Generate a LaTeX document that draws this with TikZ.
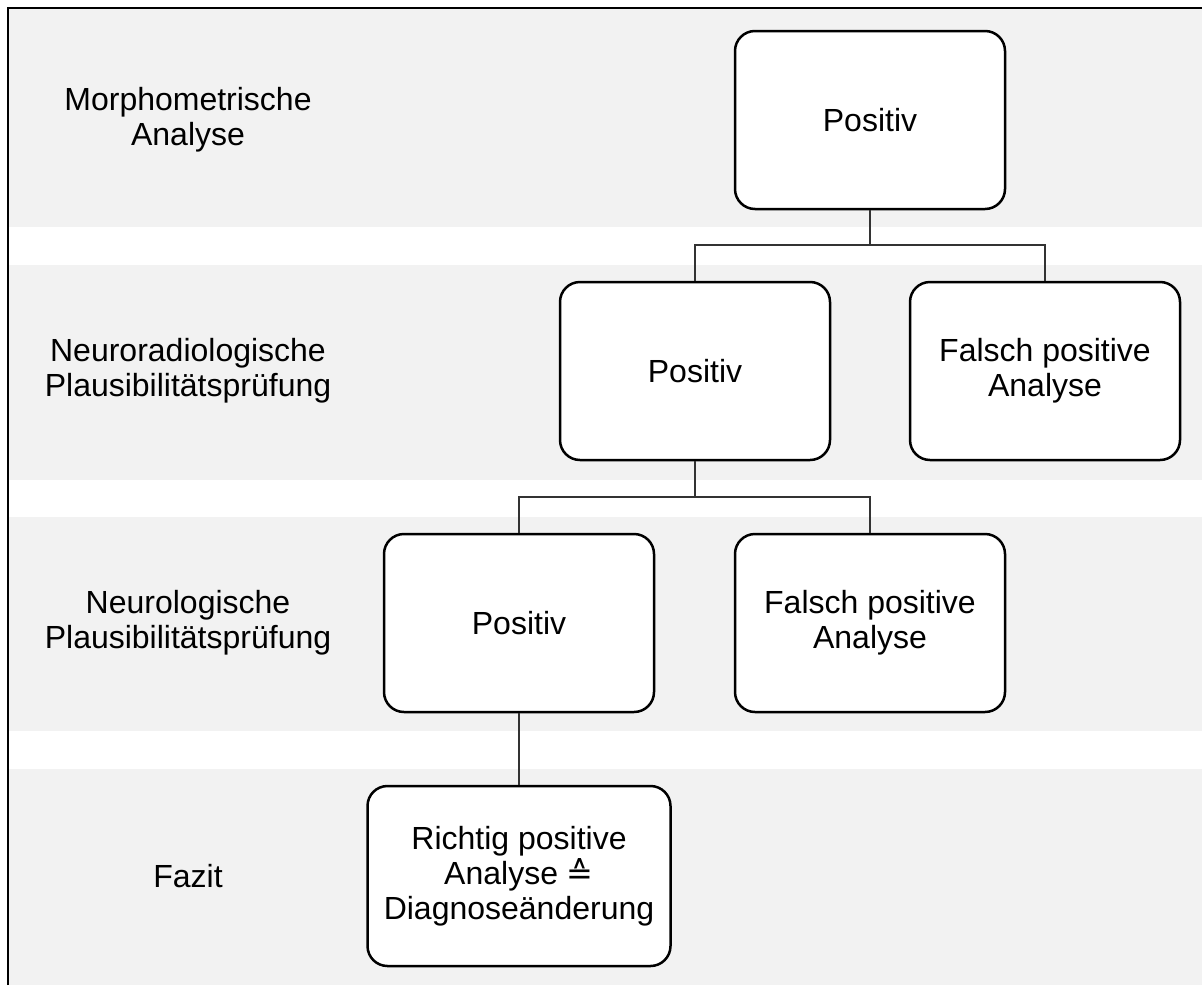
\documentclass[tikz,border=0pt]{standalone}
\usepackage{fontspec}
\setmainfont{Liberation Sans}
\newfontfamily\dejavu{DejaVu Sans}
\usepackage{tikz}
\usetikzlibrary{positioning}

\definecolor{bandgray}{HTML}{F2F2F2}

\begin{document}
\begin{tikzpicture}[
  x=0.5pt, y=-0.5pt,
  band/.style={fill=bandgray, draw=none},
  box/.style={draw, line width=1.25pt, rounded corners=10pt, fill=white, align=center, minimum width=135pt, minimum height=89pt, font=\fontsize{16}{17.5}\selectfont},
  lbl/.style={align=center, font=\fontsize{16}{17.5}\selectfont},
  line/.style={line width=0.6pt, draw=black!80}
]
\useasboundingbox (0,0) rectangle (1202,985);
% background bands
\fill[band] (9,9) rectangle (1202,227);
\fill[band] (9,265) rectangle (1202,480);
\fill[band] (9,517) rectangle (1202,731);
\fill[band] (9,769) rectangle (1202,985);
\draw[line width=1pt] (8,985) -- (8,8) -- (1202,8);

% row labels
\node[lbl] (morph) at (188,120) {Morphometrische\\Analyse};
\node[lbl] (neurorad) at (188,371) {Neuroradiologische\\Plausibilitätsprüfung};
\node[lbl] (neurolog) at (188,623) {Neurologische\\Plausibilitätsprüfung};
\node[lbl] (fazit) at (188,876) {Fazit};

% boxes
\node[box] (pos1) at (870,120) {Positiv};
\node[box] (pos2) at (695,371) {Positiv};
\node[box] (falsch1) at (1045,371) {Falsch positive\\Analyse};
\node[box] (pos3) at (519,623) {Positiv};
\node[box] (falsch2) at (870,623) {Falsch positive\\Analyse};
\node[box, minimum width=151.5pt, minimum height=90pt] (richtig) at (519,876) {Richtig positive\\Analyse {\dejavu ≙}\\Diagnoseänderung};

% connectors
\coordinate (split1) at (870,245);
\coordinate (split2) at (695,497);
\draw[line] (pos1.south) -- (split1);
\draw[line] (split1) -| (pos2.north);
\draw[line] (split1) -| (falsch1.north);
\draw[line] (pos2.south) -- (split2);
\draw[line] (split2) -| (pos3.north);
\draw[line] (split2) -| (falsch2.north);
\draw[line] (pos3.south) -- (richtig.north);
\end{tikzpicture}
\end{document}
